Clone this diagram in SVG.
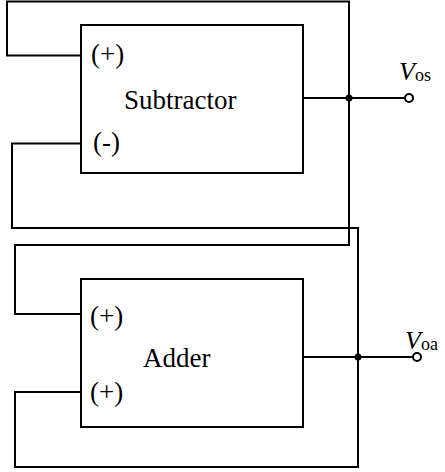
<svg xmlns="http://www.w3.org/2000/svg" width="445" height="472" viewBox="0 0 445 472">
<style>
.w{fill:none;stroke:#000;stroke-width:2;stroke-linejoin:miter}
.box{fill:#fff;stroke:#000;stroke-width:2}
.t{font-family:"Liberation Serif","Times New Roman",serif;fill:#000}
.lbl{font-size:27px}
.big{font-size:27px}
.dot{fill:#000}
.term{fill:#fff;stroke:#000;stroke-width:2}
</style>
<g id="connectors">
<path class="w" d="M81,55.5 H7 V1.5 H349 V245 H15 V314 H81"/>
<path class="w" d="M81,143.5 H12 V228 H358 V467 H15 V392 H81"/>
<path class="w" d="M303,98 H405"/>
<path class="w" d="M303,357 H413"/>
<circle class="dot" cx="349" cy="98" r="3.5"/>
<circle class="dot" cx="358" cy="357" r="3.5"/>
<circle class="term" cx="409" cy="98" r="4"/>
<circle class="term" cx="417" cy="357" r="4"/>
</g>
<g id="subtractor">
<rect class="box" x="81" y="25" width="222" height="148"/>
<text class="t lbl" x="91" y="63">(+)</text>
<text class="t big" x="124" y="109">Subtractor</text>
<text class="t lbl" x="93" y="151">(-)</text>
</g>
<g id="adder">
<rect class="box" x="81" y="279" width="222" height="148"/>
<text class="t lbl" x="90" y="325">(+)</text>
<text class="t big" x="143" y="367">Adder</text>
<text class="t lbl" x="90" y="401">(+)</text>
</g>
<g id="vos">
<text class="t" x="399" y="80" font-size="26" font-style="italic">V<tspan font-size="18" font-style="normal" dy="1">os</tspan></text>
</g>
<g id="voa">
<text class="t" x="405" y="349" font-size="26" font-style="italic">V<tspan font-size="18" font-style="normal" dy="1">oa</tspan></text>
</g>
</svg>
